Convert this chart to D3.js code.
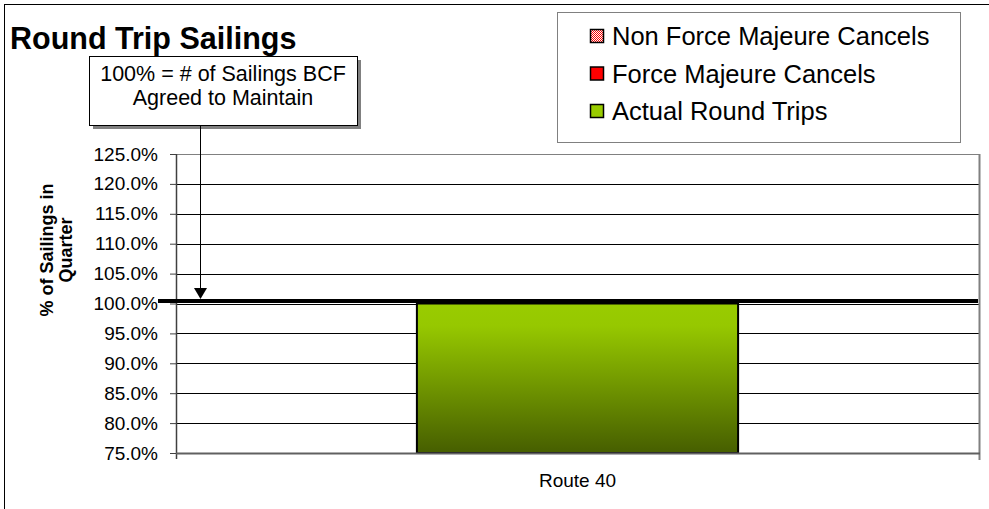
<!DOCTYPE html>
<html>
<head>
<meta charset="utf-8">
<script src="https://cdn.jsdelivr.net/npm/d3@7"></script>
<style>
  body { margin: 0; background: #fff; }
  svg text { font-family: Arial, "Liberation Sans", sans-serif; }
</style>
</head>
<body>
<div id="chart"></div>
<script>
// chart data
const categories = ['Route 40'];
const actualRoundTrips = [100.0];
const forceMajeure = [0];
const nonForceMajeure = [0];
const targetLine = [100.4];
const yTicks = [75, 80, 85, 90, 95, 100, 105, 110, 115, 120, 125];
const legendLabels = ['Non Force Majeure Cancels', 'Force Majeure Cancels', 'Actual Round Trips'];

const width = 989, height = 509;
const plot = { left: 176, right: 979, top: 154, bottom: 453 };

const svg = d3.select('#chart').append('svg')
  .attr('width', width)
  .attr('height', height);

const defs = svg.append('defs');

const grad = defs.append('linearGradient')
  .attr('id', 'barGrad')
  .attr('x1', 0).attr('y1', 0).attr('x2', 0).attr('y2', 1);
grad.append('stop').attr('offset', '0%').attr('stop-color', '#99cc00');
grad.append('stop').attr('offset', '15%').attr('stop-color', '#96c800');
grad.append('stop').attr('offset', '100%').attr('stop-color', '#465e00');

const pat = defs.append('pattern')
  .attr('id', 'dots')
  .attr('width', 2).attr('height', 2)
  .attr('patternUnits', 'userSpaceOnUse');
pat.append('rect').attr('width', 2).attr('height', 2).attr('fill', '#ffffff');
pat.append('rect').attr('width', 1).attr('height', 1).attr('fill', '#ff0000');
pat.append('rect').attr('x', 1).attr('y', 1).attr('width', 1).attr('height', 1).attr('fill', '#ff0000');

// outer border (runs past the window on right/bottom)
svg.append('rect')
  .attr('x', 4.5).attr('y', 4.5)
  .attr('width', 1000).attr('height', 520)
  .attr('fill', 'none')
  .attr('stroke', '#000');

const x = d3.scaleBand()
  .domain(categories)
  .range([plot.left, plot.right])
  .paddingInner(0.5)
  .paddingOuter(0.375);

const y = d3.scaleLinear()
  .domain([75, 125])
  .range([plot.bottom, plot.top]);

// gridlines
svg.append('g')
  .selectAll('line')
  .data(yTicks)
  .enter()
  .append('line')
  .attr('x1', plot.left)
  .attr('x2', plot.right)
  .attr('y1', d => Math.round(y(d)) + 0.5)
  .attr('y2', d => Math.round(y(d)) + 0.5)
  .attr('stroke', d => d === 125 ? '#808080' : '#000')
  .attr('stroke-width', 1);

// right plot border
svg.append('line')
  .attr('x1', plot.right + 0.5).attr('x2', plot.right + 0.5)
  .attr('y1', plot.top).attr('y2', plot.bottom + 7)
  .attr('stroke', '#808080').attr('stroke-width', 2);

// y axis
const yAxis = d3.axisLeft(y)
  .tickValues(yTicks)
  .tickSize(6)
  .tickPadding(12)
  .tickFormat(d => d.toFixed(1) + '%');

const yg = svg.append('g')
  .attr('transform', `translate(${plot.left},0)`)
  .call(yAxis);
yg.select('.domain').attr('stroke', '#404040').attr('stroke-width', 1.5)
  .attr('d', `M0.5,${plot.top}V${plot.bottom + 6}`);
yg.selectAll('.tick line').attr('stroke', '#404040');
yg.selectAll('.tick text')
  .attr('font-size', '19px')
  .attr('fill', '#000');

// bars (stacked: actual, force majeure, non force majeure)
const bars = svg.append('g');
categories.forEach((c, i) => {
  bars.append('rect')
    .attr('x', x(c))
    .attr('y', y(actualRoundTrips[i]))
    .attr('width', x.bandwidth())
    .attr('height', y(75) - y(actualRoundTrips[i]))
    .attr('fill', 'url(#barGrad)')
    .attr('stroke', '#000')
    .attr('stroke-width', 2);
  if (forceMajeure[i] > 0) {
    bars.append('rect')
      .attr('x', x(c))
      .attr('y', y(actualRoundTrips[i] + forceMajeure[i]))
      .attr('width', x.bandwidth())
      .attr('height', y(actualRoundTrips[i]) - y(actualRoundTrips[i] + forceMajeure[i]))
      .attr('fill', '#ff0000').attr('stroke', '#000');
  }
  if (nonForceMajeure[i] > 0) {
    const base = actualRoundTrips[i] + forceMajeure[i];
    bars.append('rect')
      .attr('x', x(c))
      .attr('y', y(base + nonForceMajeure[i]))
      .attr('width', x.bandwidth())
      .attr('height', y(base) - y(base + nonForceMajeure[i]))
      .attr('fill', 'url(#dots)').attr('stroke', '#000');
  }
});

// bottom axis line
svg.append('line')
  .attr('x1', plot.left).attr('x2', plot.right + 1)
  .attr('y1', plot.bottom + 0.5).attr('y2', plot.bottom + 0.5)
  .attr('stroke', '#606060').attr('stroke-width', 2);

// x labels
svg.append('g')
  .selectAll('text')
  .data(categories)
  .enter()
  .append('text')
  .attr('x', d => x(d) + x.bandwidth() / 2)
  .attr('y', 487)
  .attr('text-anchor', 'middle')
  .attr('font-size', '19px')
  .text(d => d);

// 100% target line
svg.append('line')
  .attr('x1', 158).attr('x2', plot.right - 1)
  .attr('y1', y(targetLine[0])).attr('y2', y(targetLine[0]))
  .attr('stroke', '#000')
  .attr('stroke-width', 4);

// y axis title
svg.append('text')
  .attr('transform', 'translate(53,250) rotate(-90)')
  .attr('text-anchor', 'middle')
  .attr('font-size', '18px')
  .attr('font-weight', 'bold')
  .selectAll('tspan')
  .data(['% of Sailings in', 'Quarter'])
  .enter()
  .append('tspan')
  .attr('x', 0)
  .attr('dy', (d, i) => i === 0 ? 0 : 19)
  .text(d => d);

// title
svg.append('text')
  .attr('x', 10).attr('y', 49)
  .attr('font-size', '30.5px')
  .attr('font-weight', 'bold')
  .text('Round Trip Sailings');

// annotation box with shadow
const ann = { x: 89, y: 56, w: 268, h: 69 };
svg.append('rect')
  .attr('x', ann.x + 4).attr('y', ann.y + 4)
  .attr('width', ann.w).attr('height', ann.h)
  .attr('fill', '#808080');
svg.append('rect')
  .attr('x', ann.x + 0.5).attr('y', ann.y + 0.5)
  .attr('width', ann.w).attr('height', ann.h)
  .attr('fill', '#fff').attr('stroke', '#000');
svg.append('text')
  .attr('x', ann.x + ann.w / 2).attr('y', 81)
  .attr('text-anchor', 'middle').attr('font-size', '21.5px')
  .text('100% = # of Sailings BCF');
svg.append('text')
  .attr('x', ann.x + ann.w / 2).attr('y', 105)
  .attr('text-anchor', 'middle').attr('font-size', '21.5px')
  .text('Agreed to Maintain');

// arrow
const arrowY = y(targetLine[0]) - 2;
svg.append('line')
  .attr('x1', 200.5).attr('x2', 200.5)
  .attr('y1', ann.y + ann.h + 1).attr('y2', arrowY - 10)
  .attr('stroke', '#000');
svg.append('path')
  .attr('d', `M194,${arrowY - 11}L207,${arrowY - 11}L200.5,${arrowY}Z`)
  .attr('fill', '#000');

// legend
const lg = svg.append('g');
lg.append('rect')
  .attr('x', 557.5).attr('y', 12.5)
  .attr('width', 403).attr('height', 130)
  .attr('fill', '#fff')
  .attr('stroke', '#808080');
const swFill = ['url(#dots)', '#ff0000', '#99cc00'];
legendLabels.forEach((l, i) => {
  const cy = 36 + i * 37.5;
  lg.append('rect')
    .attr('x', 590.5).attr('y', cy - 6.5)
    .attr('width', 13).attr('height', 13)
    .attr('fill', swFill[i])
    .attr('stroke', '#000').attr('stroke-width', 1.5);
  lg.append('text')
    .attr('x', 612).attr('y', cy + 9)
    .attr('font-size', '25.5px')
    .text(l);
});
</script>
</body>
</html>
